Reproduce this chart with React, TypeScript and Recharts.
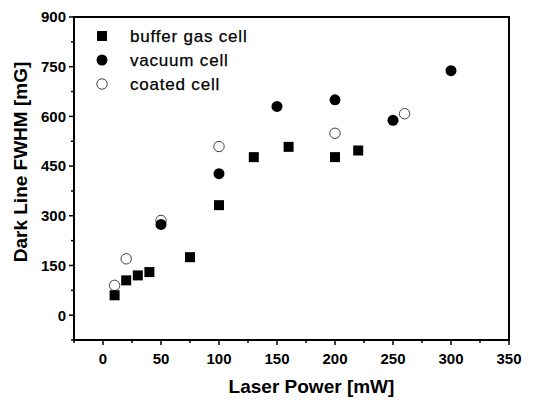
import React from 'react';
import { ScatterChart, Scatter, XAxis, YAxis, ReferenceArea, Legend } from 'recharts';

const bufferX = [10, 20, 30, 40, 75, 100, 130, 160, 200, 220];
const bufferY = [60, 105, 120, 130, 175, 332, 477, 508, 477, 497];
const vacuumX = [50, 100, 150, 200, 250, 300];
const vacuumY = [274, 427, 630, 650, 588, 738];
const coatedX = [10, 20, 50, 100, 200, 260];
const coatedY = [90, 170, 286, 509, 549, 608];

const xTicks = [-25, 0, 25, 50, 75, 100, 125, 150, 175, 200, 225, 250, 275, 300, 325, 350];
const xMajor = [0, 50, 100, 150, 200, 250, 300, 350];
const yTicks = [-75, 0, 75, 150, 225, 300, 375, 450, 525, 600, 675, 750, 825, 900];
const yMajor = [0, 150, 300, 450, 600, 750, 900];

const seriesNames = ['buffer gas cell', 'vacuum cell', 'coated cell'];

const zip = (xs: number[], ys: number[]) => xs.map((x, i) => ({ x, y: ys[i] }));
const bufferData = zip(bufferX, bufferY);
const vacuumData = zip(vacuumX, vacuumY);
const coatedData = zip(coatedX, coatedY);

const FONT = '"Liberation Sans", Arial, Helvetica, sans-serif';

const SquareShape = (p: any) => (
  <rect x={p.cx - 5} y={p.cy - 5} width={10} height={10} fill="#000" />
);
const DotShape = (p: any) => <circle cx={p.cx} cy={p.cy} r={5.5} fill="#000" />;
const OpenShape = (p: any) => (
  <circle cx={p.cx} cy={p.cy} r={5.2} fill="#fff" stroke="#444" strokeWidth={1} />
);

const XTick = (props: any) => {
  const { x, y, payload } = props;
  const major = xMajor.includes(payload.value);
  return (
    <g>
      <line x1={x} y1={y} x2={x} y2={y + (major ? 5 : 3)} stroke="#000" strokeWidth={1.5} />
      {major && (
        <text x={x} y={y + 24} textAnchor="middle" fontFamily={FONT} fontWeight="bold" fontSize={15} fill="#000">
          {payload.value}
        </text>
      )}
    </g>
  );
};

const YTick = (props: any) => {
  const { x, y, payload } = props;
  const major = yMajor.includes(payload.value);
  return (
    <g>
      <line x1={x - (major ? 5 : 3)} y1={y} x2={x} y2={y} stroke="#000" strokeWidth={1.5} />
      {major && (
        <text x={x - 8} y={y} dy="0.36em" textAnchor="end" fontFamily={FONT} fontWeight="bold" fontSize={15} fill="#000">
          {payload.value}
        </text>
      )}
    </g>
  );
};

const markers = [
  (cx: number, cy: number) => <rect x={cx - 5} y={cy - 5} width={10} height={10} fill="#000" />,
  (cx: number, cy: number) => <circle cx={cx} cy={cy} r={5.5} fill="#000" />,
  (cx: number, cy: number) => <circle cx={cx} cy={cy} r={5.2} fill="#fff" stroke="#444" strokeWidth={1} />,
];

const LegendContent = () => (
  <svg width={200} height={80} style={{ display: 'block' }}>
    {seriesNames.map((name, i) => (
      <g key={name}>
        {markers[i](12, 16 + i * 24)}
        <text x={40} y={16 + i * 24 + 6} fontFamily={FONT} fontSize={17} letterSpacing={0.8} fill="#000" stroke="#000" strokeWidth={0.25}>
          {name}
        </text>
      </g>
    ))}
  </svg>
);

export default function App() {
  return (
    <div>
      <style>{'body{margin:0}'}</style>
      <ScatterChart width={550} height={400} margin={{ top: 17, right: 41, bottom: 0, left: 0 }}>
        <XAxis
          type="number"
          dataKey="x"
          domain={[-25, 350]}
          ticks={xTicks}
          interval={0}
          allowDataOverflow
          height={60}
          tickSize={0}
          tickMargin={0}
          tickLine={false}
          tick={(p: any) => <XTick {...p} />}
          axisLine={{ stroke: '#000', strokeWidth: 2 }}
          label={{
            content: (lp: any) => {
              const vb = lp.viewBox;
              return (
                <text x={vb.x + vb.width / 2 + 20} y={vb.y + 53} textAnchor="middle" fontFamily={FONT} fontWeight="bold" fontSize={19} fill="#000">
                  Laser Power [mW]
                </text>
              );
            },
          }}
        />
        <YAxis
          type="number"
          dataKey="y"
          domain={[-75, 900]}
          ticks={yTicks}
          interval={0}
          allowDataOverflow
          width={74}
          tickSize={0}
          tickMargin={0}
          tickLine={false}
          tick={(p: any) => <YTick {...p} />}
          axisLine={{ stroke: '#000', strokeWidth: 2 }}
          label={{
            content: () => (
              <text x={27} y={162} transform="rotate(-90 27 162)" textAnchor="middle" fontFamily={FONT} fontWeight="bold" fontSize={19} fill="#000">
                Dark Line FWHM [mG]
              </text>
            ),
          }}
        />
        <ReferenceArea x1={-25} x2={350} y1={-75} y2={900} fill="none" stroke="#000" strokeWidth={2} ifOverflow="visible" />
        <Scatter name={seriesNames[2]} data={coatedData} shape={OpenShape} isAnimationActive={false} />
        <Scatter name={seriesNames[0]} data={bufferData} shape={SquareShape} isAnimationActive={false} />
        <Scatter name={seriesNames[1]} data={vacuumData} shape={DotShape} isAnimationActive={false} />
        <Legend
          layout="vertical"
          align="center"
          verticalAlign="middle"
          wrapperStyle={{ left: 90, top: 20, width: 200 }}
          content={() => <LegendContent />}
        />
      </ScatterChart>
    </div>
  );
}
